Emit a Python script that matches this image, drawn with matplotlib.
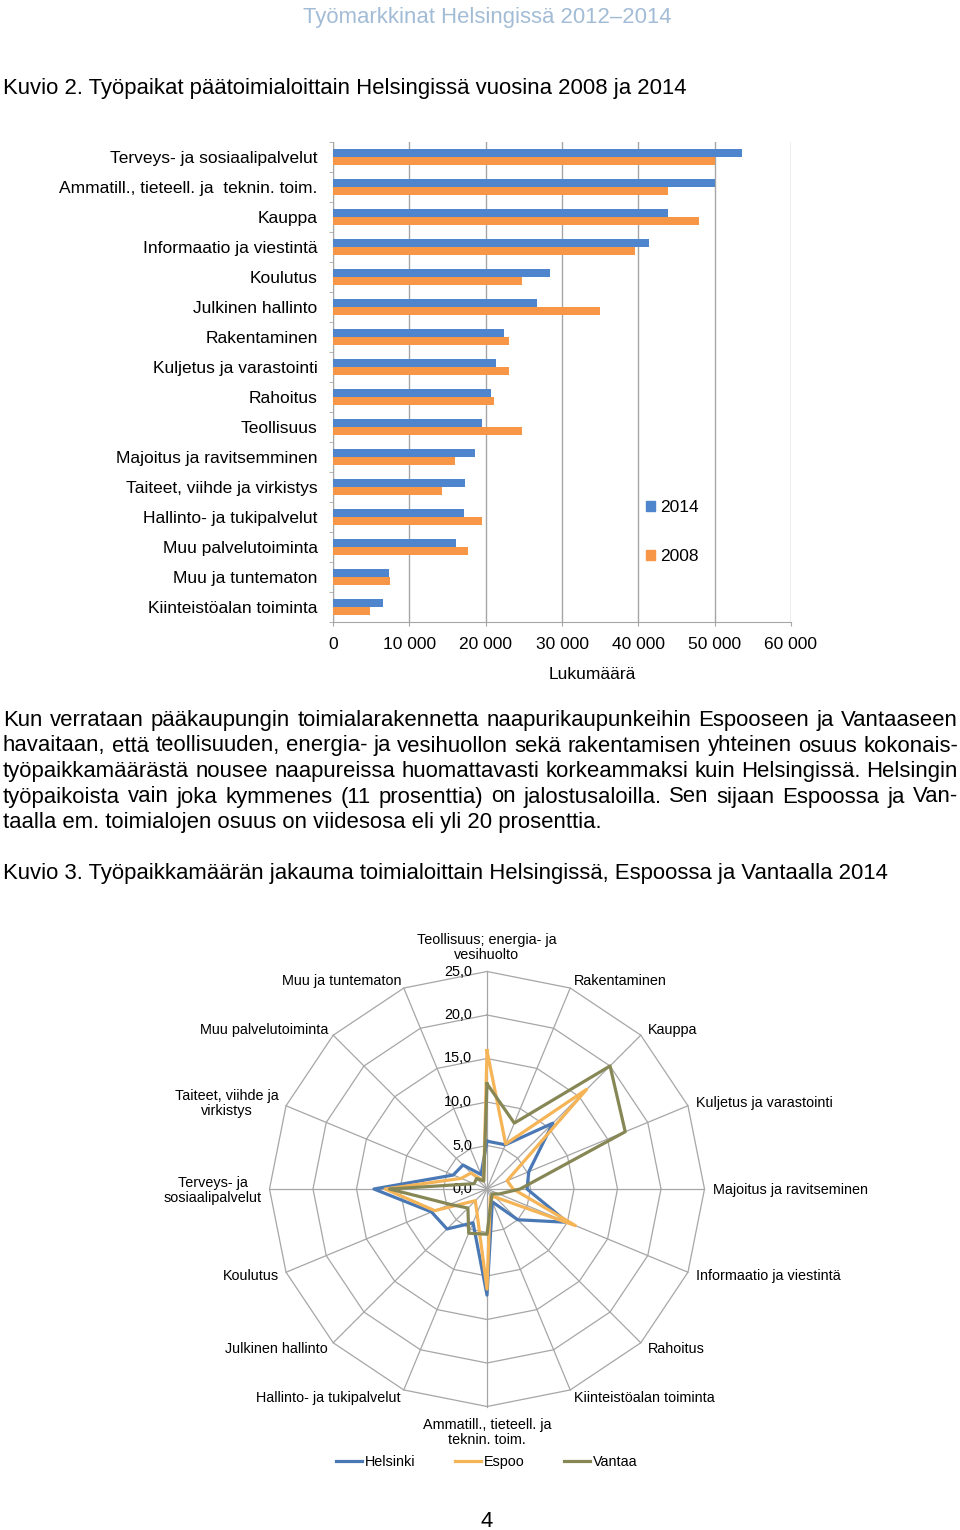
import numpy as np
import matplotlib.pyplot as plt
from matplotlib.lines import Line2D
from matplotlib.patches import Patch

plt.rcParams['font.family'] = ['Liberation Sans', 'DejaVu Sans']

W, H = 960, 1530


def fx(x):
    return x / W


def fy(y):
    return 1 - y / H


# Kuvio 2: työpaikat päätoimialoittain Helsingissä
bar_labels = ["Terveys- ja sosiaalipalvelut", "Ammatill., tieteell. ja  teknin. toim.",
              "Kauppa", "Informaatio ja viestintä", "Koulutus", "Julkinen hallinto",
              "Rakentaminen", "Kuljetus ja varastointi", "Rahoitus", "Teollisuus",
              "Majoitus ja ravitsemminen", "Taiteet, viihde ja virkistys",
              "Hallinto- ja tukipalvelut", "Muu palvelutoiminta", "Muu ja tuntematon",
              "Kiinteistöalan toiminta"]
jobs_2014 = [53600, 50000, 43900, 41400, 28400, 26700, 22400, 21300,
             20700, 19500, 18600, 17300, 17200, 16100, 7300, 6500]
jobs_2008 = [50000, 43900, 48000, 39600, 24800, 35000, 23000, 23100,
             21100, 24800, 16000, 14300, 19500, 17700, 7500, 4800]
x_ticks = [0, 10000, 20000, 30000, 40000, 50000, 60000]
x_tick_labels = ["0", "10 000", "20 000", "30 000", "40 000", "50 000", "60 000"]

# Kuvio 3: työpaikkamäärän jakauma (%)
radar_labels = ["Teollisuus; energia- ja\nvesihuolto", "Rakentaminen", "Kauppa",
                "Kuljetus ja varastointi", "Majoitus ja ravitseminen",
                "Informaatio ja viestintä", "Rahoitus", "Kiinteistöalan toiminta",
                "Ammatill., tieteell. ja\nteknin. toim.", "Hallinto- ja tukipalvelut",
                "Julkinen hallinto", "Koulutus", "Terveys- ja\nsosiaalipalvelut",
                "Taiteet, viihde ja\nvirkistys", "Muu palvelutoiminta", "Muu ja tuntematon"]
helsinki = [5.5, 5.5, 10.7, 5.2, 4.6, 10.0, 5.0, 1.6, 12.2, 4.2, 6.5, 6.9, 13.0, 4.2, 3.9, 1.8]
espoo = [15.9, 5.6, 16.2, 2.5, 3.0, 11.0, 1.3, 1.0, 11.5, 3.0, 1.9, 6.5, 11.7, 3.2, 2.6, 1.0]
vantaa = [12.1, 8.2, 20.0, 17.2, 3.8, 1.5, 0.8, 1.3, 5.2, 5.5, 3.1, 4.6, 11.2, 1.6, 1.7, 1.0]
rings = [0, 5, 10, 15, 20, 25]

paragraph = [
    "Kun verrataan pääkaupungin toimialarakennetta naapurikaupunkeihin Espooseen ja Vantaaseen",
    "havaitaan, että teollisuuden, energia- ja vesihuollon sekä rakentamisen yhteinen osuus kokonais-",
    "työpaikkamäärästä nousee naapureissa huomattavasti korkeammaksi kuin Helsingissä. Helsingin",
    "työpaikoista vain joka kymmenes (11 prosenttia) on jalostusaloilla. Sen sijaan Espoossa ja Van-",
    "taalla em. toimialojen osuus on viidesosa eli yli 20 prosenttia.",
]

blue, orange = "#4F85CC", "#F79646"
grid = "#A6A6A6"
BODY = 15.9

fig = plt.figure(figsize=(W / 100, H / 100), dpi=100)

# sivun otsikot
fig.text(fx(487), fy(23), "Työmarkkinat Helsingissä 2012–2014", ha="center", va="baseline",
         fontsize=BODY, color="#A3BCD6")
fig.text(fx(3), fy(94), "Kuvio 2. Työpaikat päätoimialoittain Helsingissä vuosina 2008 ja 2014",
         ha="left", va="baseline", fontsize=BODY)

# --- pylväskuvio
ax = fig.add_axes([fx(333), fy(622), (791 - 333) / W, (622 - 142) / H])
y = np.arange(len(bar_labels))
ax.barh(y - 0.14, jobs_2014, height=0.28, color=blue, label="2014", zorder=3)
ax.barh(y + 0.14, jobs_2008, height=0.28, color=orange, label="2008", zorder=3)
ax.set_xlim(0, 60000)
ax.set_ylim(len(bar_labels) - 0.5, -0.5)
ax.set_xticks(x_ticks)
ax.set_xticklabels(x_tick_labels, fontsize=12.5)
ax.set_yticks(y)
ax.set_yticklabels(bar_labels, fontsize=12.5)
ax.set_yticks(np.arange(-0.5, len(bar_labels), 1), minor=True)
ax.tick_params(axis="y", which="major", length=0, pad=11)
ax.tick_params(axis="y", which="minor", length=3, color=grid)
ax.tick_params(axis="x", length=3, color=grid, pad=8)
ax.xaxis.grid(True, color=grid, lw=1)
ax.set_axisbelow(True)
for s in ["top", "right"]:
    ax.spines[s].set_visible(False)
for s in ["left", "bottom"]:
    ax.spines[s].set_color(grid)
fig.text(fx(592), fy(679), "Lukumäärä", ha="center", va="baseline", fontsize=12.5)
handles = [Patch(color=blue), Patch(color=orange)]
fig.legend(handles, ["2014", "2008"], loc="center left", bbox_to_anchor=(fx(646), fy(532)),
           frameon=False, fontsize=12.5, handlelength=0.5, handleheight=0.5,
           handletextpad=0.3, labelspacing=1.95, borderpad=0, borderaxespad=0)

# --- kappale, tasattu molempiin reunoihin
renderer = fig.canvas.get_renderer()
x0, x1 = 3, 958
for i, line in enumerate(paragraph):
    base = 726 + i * 25.5
    if i == len(paragraph) - 1:
        fig.text(fx(x0), fy(base), line, ha="left", va="baseline", fontsize=BODY)
        continue
    words = line.split()
    texts = [fig.text(0, 0, w, ha="left", va="baseline", fontsize=BODY) for w in words]
    widths = [t.get_window_extent(renderer).width for t in texts]
    gap = (x1 - x0 - sum(widths)) / (len(words) - 1)
    xpos = x0
    for t, w in zip(texts, widths):
        t.set_position((fx(xpos), fy(base)))
        xpos += w + gap

fig.text(fx(3), fy(879), "Kuvio 3. Työpaikkamäärän jakauma toimialoittain Helsingissä, Espoossa ja Vantaalla 2014",
         ha="left", va="baseline", fontsize=BODY)

# --- säteittäiskuvio
rad = fig.add_axes([fx(487 - 261), fy(1189 + 261), 522 / W, 522 / H])
rad.set_xlim(-30, 30)
rad.set_ylim(-30, 30)
rad.axis("off")
n = len(radar_labels)
ang = np.arange(n) * 2 * np.pi / n
ang_c = np.append(ang, ang[0])
for r in rings[1:]:
    rad.plot(r * np.sin(ang_c), r * np.cos(ang_c), color=grid, lw=0.9, zorder=1)
for a in ang:
    rad.plot([0, 25 * np.sin(a)], [0, 25 * np.cos(a)], color=grid, lw=0.9, zorder=1)
for r in rings:
    rad.text(-1.7, r, f"{r:.1f}".replace(".", ","), ha="right", va="center", fontsize=10.4)

series = [("Helsinki", helsinki, "#4A78B5"), ("Espoo", espoo, "#F5B456"), ("Vantaa", vantaa, "#878756")]
for name, vals, col in series:
    v = np.append(vals, vals[0])
    rad.plot(v * np.sin(ang_c), v * np.cos(ang_c), color=col, lw=2.3, zorder=3, label=name)

# kategorioiden nimet (x, viimeisen rivin perusviiva, tasaus)
label_pos = [(487, 959, "center"), (574, 985, "left"), (648, 1034, "left"), (696, 1107, "left"),
             (713, 1194, "left"), (696, 1280, "left"), (648, 1353, "left"), (574, 1402, "left"),
             (487, 1444, "center"), (401, 1402, "right"), (328, 1353, "right"), (279, 1280, "right"),
             (213, 1202, "center"), (227, 1115, "center"), (328, 1034, "right"), (401, 985, "right")]
for lab, (x, yb, ha) in zip(radar_labels, label_pos):
    fig.text(fx(x), fy(yb), lab, ha=ha, va="baseline", fontsize=10.4,
             multialignment="center", linespacing=1.1)

lh = [Line2D([], [], color=c, lw=2.3) for _, _, c in series]
fig.legend(lh, [s[0] for s in series], loc="center left", bbox_to_anchor=(fx(336), fy(1462)),
           ncol=3, frameon=False, fontsize=10.4, handlelength=1.8, handletextpad=0.2,
           columnspacing=2.75, borderpad=0, borderaxespad=0)

fig.text(fx(487), fy(1527), "4", ha="center", va="baseline", fontsize=BODY)

fig.savefig("out.png", dpi=100)
